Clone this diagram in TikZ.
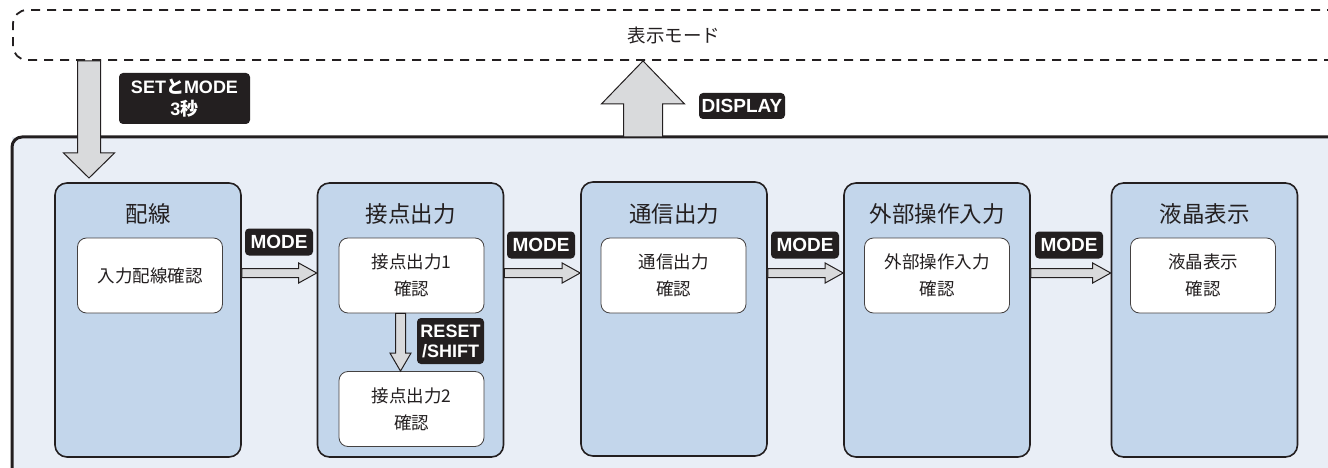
\documentclass[tikz,border=0pt]{standalone}
\usepackage{fontspec}
\setmainfont{Noto Sans CJK JP}
\newfontfamily\keyfont{Liberation Sans}
\newfontfamily\cjkb{Noto Sans CJK JP}
\usetikzlibrary{calc}
\definecolor{framefill}{HTML}{E9EEF6}
\definecolor{boxblue}{HTML}{C3D6EB}
\definecolor{arrowgray}{HTML}{D9DADC}
\definecolor{ink}{HTML}{231F20}
\tikzset{
  stage/.style={draw=ink, line width=1.6pt, fill=boxblue, rounded corners=12pt,
    minimum width=186pt, minimum height=274pt, inner sep=0pt},
  innerbox/.style={draw=ink!85, line width=0.8pt, fill=white, rounded corners=9pt,
    minimum width=145pt, minimum height=75pt, align=center, text=ink,
    font=\fontsize{17.5}{27}\selectfont, inner sep=0pt},
  stitle/.style={text=ink, font=\fontsize{22.5}{26}\selectfont, inner sep=0pt},
  keylabel/.style={fill=ink, text=white, rounded corners=4pt, align=center,
    font=\keyfont\bfseries\fontsize{19}{21}\selectfont, inner sep=0pt},
  dashbox/.style={draw=ink, line width=1.8pt, dash pattern=on 9pt off 7pt,
    rounded corners=14pt, inner sep=0pt},
  fat/.style n args={3}{to path={let \p1=(\tikztostart), \p2=(\tikztotarget),
    \n1={veclen(\x2-\x1,\y2-\y1)}, \n2={atan2(\y2-\y1,\x2-\x1)} in
    {[shift={(\p1)},rotate=\n2] (0pt,-#1pt) -- (\n1-#3pt,-#1pt) -- (\n1-#3pt,-#2pt)
     -- (\n1,0pt) -- (\n1-#3pt,#2pt) -- (\n1-#3pt,#1pt) -- (0pt,#1pt) -- cycle}}},
  fatarrow/.style={draw=ink, fill=arrowgray, line width=1pt, line join=miter}
}
\begin{document}
\begin{tikzpicture}[x=1pt,y=-1pt]
\useasboundingbox (0,0) rectangle (1328,468);
% main frame
\fill[framefill] (12,137) rectangle (1345,485);
\draw[ink, line width=3pt, rounded corners=10pt] (12,485) -- (12,137) -- (1345,137);
% display mode box
\node[dashbox, minimum width=1337pt, minimum height=50pt] (mode) at (681.5,35) {};
\node[text=ink, font=\fontsize{18.5}{20}\selectfont, inner sep=0pt] (modetext) at (674,35) {表示モード};
% stages
\node[stage] (b1) at (148,320) {};
\node[stage] (b2) at (410.5,320) {};
\node[stage] (b3) at (674,319) {};
\node[stage] (b4) at (937,320) {};
\node[stage] (b5) at (1204.5,320) {};
\node[stitle] (t1) at (148,214) {配線};
\node[stitle] (t2) at (410.5,214) {接点出力};
\node[stitle] (t3) at (674,214) {通信出力};
\node[stitle] (t4) at (937,214) {外部操作入力};
\node[stitle] (t5) at (1204.5,214) {液晶表示};
\node[innerbox] (i1) at (150,275.5) {入力配線確認};
\node[innerbox] (i2a) at (411.5,275.5) {接点出力1\\確認};
\node[innerbox] (i2b) at (411.5,409) {接点出力2\\確認};
\node[innerbox] (i3) at (673.5,275.5) {通信出力\\確認};
\node[innerbox] (i4) at (937,275.5) {外部操作入力\\確認};
\node[innerbox] (i5) at (1203,275.5) {液晶表示\\確認};
% arrows
\coordinate (entry) at (89,178);
\coordinate (exit) at (643,137);
\draw[fatarrow] (mode.south -| entry) to[fat={11.5}{25.5}{25}] (entry);
\draw[fatarrow] (exit) to[fat={19.5}{41.5}{43}] (mode.south -| exit);
\draw[fatarrow] ([yshift=47pt]b1.east) to[fat={4.5}{10}{18}] ([yshift=47pt]b2.west);
\draw[fatarrow] ([yshift=47pt]b2.east) to[fat={4.5}{10}{18}] ([yshift=46pt]b3.west);
\draw[fatarrow] ([yshift=46pt]b3.east) to[fat={4.5}{10}{18}] ([yshift=47pt]b4.west);
\draw[fatarrow] ([yshift=47pt]b4.east) to[fat={4.5}{10}{18}] ([yshift=47pt]b5.west);
\draw[fatarrow] ([xshift=-11pt]i2a.south) to[fat={5}{10.5}{18}] ([xshift=-11pt]i2b.north);
% key labels
\node[keylabel, minimum width=131pt, minimum height=51pt, font=\keyfont\bfseries\fontsize{18}{22}\selectfont] (k0) at (184.5,98.5) {SET{\cjkb\bfseries と}MODE\\3{\cjkb\bfseries 秒}};
\node[keylabel, minimum width=86pt, minimum height=26pt] (kd) at (742,106) {DISPLAY};
\node[keylabel, minimum width=68pt, minimum height=27pt] (k1) at (279,242) {MODE};
\node[keylabel, minimum width=68pt, minimum height=27pt] (k2) at (541,245) {MODE};
\node[keylabel, minimum width=68pt, minimum height=27pt] (k3) at (805,245) {MODE};
\node[keylabel, minimum width=68pt, minimum height=27pt] (k4) at (1069,245) {MODE};
\node[keylabel, minimum width=67pt, minimum height=46pt, font=\keyfont\bfseries\fontsize{18}{20}\selectfont] (kr) at (450.5,341) {RESET\\/SHIFT};
\end{tikzpicture}
\end{document}
